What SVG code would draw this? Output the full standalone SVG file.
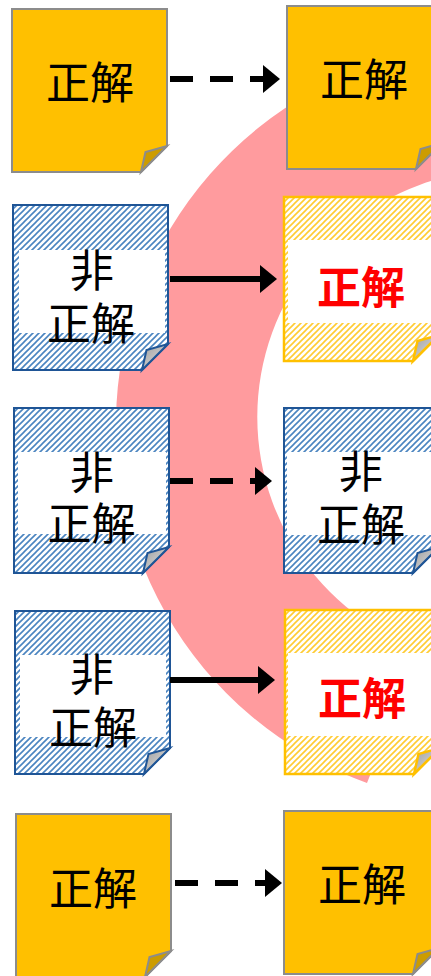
<svg xmlns="http://www.w3.org/2000/svg" width="431" height="976" viewBox="0 0 431 976">
<style>
.gold{fill:#FFC000;stroke:#8C8C8C;stroke-width:2;stroke-linejoin:miter}
.goldfold{fill:#CC9C00;stroke:#8C8C8C;stroke-width:2;stroke-linejoin:miter}
.blue{fill:url(#hatchBlue);stroke:#1F5596;stroke-width:2}
.bluefold{fill:url(#grayFold);stroke:#1F5596;stroke-width:2}
.yel{fill:url(#hatchYel);stroke:#FFC000;stroke-width:2.5}
.yelfold{fill:url(#grayFold);stroke:#FFC000;stroke-width:2.5}
.band{fill:#FFFFFF}
.t{font-family:"Noto Sans CJK JP","Noto Sans CJK SC",sans-serif;font-size:44px;fill:#000000;text-anchor:middle}
.red{fill:#FF0000;font-weight:bold}
.ln{stroke:#000000;stroke-width:6;fill:none}
.dash{stroke-dasharray:23 17}
</style>
<defs>
<pattern id="hatchBlue" patternUnits="userSpaceOnUse" width="6" height="6">
<rect width="6" height="6" fill="#FFFFFF"/>
<path d="M0,6 L6,0 M-1.5,1.5 L1.5,-1.5 M4.5,7.5 L7.5,4.5" stroke="#4A84C0" stroke-width="1.6"/>
</pattern>
<pattern id="hatchYel" patternUnits="userSpaceOnUse" width="6" height="6">
<rect width="6" height="6" fill="#FFFFFF"/>
<path d="M0,6 L6,0 M-1.5,1.5 L1.5,-1.5 M4.5,7.5 L7.5,4.5" stroke="#FFCC33" stroke-width="1.6"/>
</pattern>
<linearGradient id="grayFold" x1="0" y1="0" x2="1" y2="1">
<stop offset="0" stop-color="#9E9E9E"/>
<stop offset="1" stop-color="#E6E6E6"/>
</linearGradient>
<marker id="ah" markerUnits="userSpaceOnUse" markerWidth="18" markerHeight="28" refX="0" refY="14" orient="auto">
<path d="M0,0 L17,14 L0,28 Z" fill="#000000"/>
</marker>
</defs>

<g id="arc">
<path d="M508,44 A381,381 0 0 0 367,783 L419.8,649.1 A247,247 0 0 1 504,170 Z" fill="#FF9B9E"/>
</g>

<g id="note-1L">
<path class="gold" d="M12,9 H167 V146 L141,172 H12 Z"/>
<path class="goldfold" d="M141,172 L145.5,152 L167,146 Z"/>
<text class="t" x="90" y="98.5">正解</text>
</g>
<g id="note-1R">
<path class="gold" d="M287,6 H442 V143 L416,169 H287 Z"/>
<path class="goldfold" d="M416,169 L420.5,149 L442,143 Z"/>
<text class="t" x="364" y="95.5">正解</text>
</g>

<g id="note-2L">
<path class="blue" d="M13,205 H168 V344 L142,370 H13 Z"/>
<rect class="band" x="19" y="250" width="146" height="83"/>
<path class="bluefold" d="M142,370 L146.5,350 L168,344 Z"/>
<text class="t" x="92" y="286.5">非</text>
<text class="t" x="91" y="339.5">正解</text>
</g>
<g id="note-2R">
<path class="yel" d="M284,197 H439 V335 L413,361 H284 Z"/>
<rect class="band" x="288" y="240" width="150" height="83"/>
<path class="yelfold" d="M413,361 L417.5,341 L439,335 Z"/>
<text class="t red" x="361" y="303.5">正解</text>
</g>

<g id="note-3L">
<path class="blue" d="M14,408 H169 V547 L143,573 H14 Z"/>
<rect class="band" x="18" y="452" width="148" height="82"/>
<path class="bluefold" d="M143,573 L147.5,553 L169,547 Z"/>
<text class="t" x="92" y="488.5">非</text>
<text class="t" x="91.5" y="539.5">正解</text>
</g>
<g id="note-3R">
<path class="blue" d="M284,408 H439 V547 L413,573 H284 Z"/>
<rect class="band" x="287" y="452" width="150" height="83"/>
<path class="bluefold" d="M413,573 L417.5,553 L439,547 Z"/>
<text class="t" x="361" y="487.5">非</text>
<text class="t" x="361" y="541">正解</text>
</g>

<g id="note-4L">
<path class="blue" d="M15,611 H170 V748 L144,774 H15 Z"/>
<rect class="band" x="20" y="655" width="146" height="82"/>
<path class="bluefold" d="M144,774 L148.5,754 L170,748 Z"/>
<text class="t" x="92" y="690.5">非</text>
<text class="t" x="93" y="743.5">正解</text>
</g>
<g id="note-4R">
<path class="yel" d="M285,610 H440 V748 L414,774 H285 Z"/>
<rect class="band" x="288" y="653" width="150" height="83"/>
<path class="yelfold" d="M414,774 L418.5,754 L440,748 Z"/>
<text class="t red" x="362" y="714.5">正解</text>
</g>

<g id="note-5L">
<path class="gold" d="M16,814 H171 V951 L145,977 H16 Z"/>
<path class="goldfold" d="M145,977 L149.5,957 L171,951 Z"/>
<text class="t" x="93" y="904.5">正解</text>
</g>
<g id="note-5R">
<path class="gold" d="M284,811 H439 V948 L413,974 H284 Z"/>
<path class="goldfold" d="M413,974 L417.5,954 L439,948 Z"/>
<text class="t" x="362" y="900.5">正解</text>
</g>

<g id="connectors">
<path class="ln dash" d="M170,79 H263" marker-end="url(#ah)"/>
<path class="ln" d="M170,279 H260" marker-end="url(#ah)"/>
<path class="ln dash" d="M170,481 H255" marker-end="url(#ah)"/>
<path class="ln" d="M170,680 H258" marker-end="url(#ah)"/>
<path class="ln dash" d="M175,883 H265" marker-end="url(#ah)"/>
</g>
</svg>
